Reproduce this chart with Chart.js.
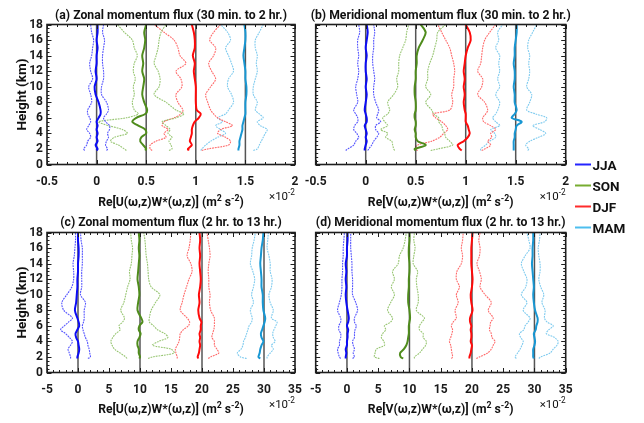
<!DOCTYPE html>
<html>
<head>
<meta charset="utf-8">
<script src="https://cdn.jsdelivr.net/npm/chart.js@4.4.0/dist/chart.umd.min.js"></script>
<style>
  html, body { margin: 0; padding: 0; background: #fff; width: 644px; height: 423px; overflow: hidden; }
  #wrap { position: relative; width: 644px; height: 423px; }
  #wrap canvas { position: absolute; left: 0; top: 0; }
</style>
</head>
<body>
<div id="wrap">
  <canvas id="pa" width="644" height="423"></canvas>
  <canvas id="pb" width="644" height="423"></canvas>
  <canvas id="pc" width="644" height="423"></canvas>
  <canvas id="pd" width="644" height="423"></canvas>
</div>
<script>
// Heights (km) shared by every profile
const heights = [1.8, 2, 2.5, 3, 3.5, 4, 4.5, 5, 5.5, 6, 6.5, 7, 8, 9, 10, 11, 12, 13, 14, 15, 16, 17, 18];

const seasons = ['JJA', 'SON', 'DJF', 'MAM'];
const refTop = [0, 0.5, 1, 1.5];       // offsets of the upper panels (x10^-2)
const refBottom = [0, 10, 20, 30];     // offsets of the lower panels (x10^-2)
const ticksTop = [-0.5, 0, 0.5, 1, 1.5, 2];
const ticksBottom = [-5, 0, 5, 10, 15, 20, 25, 30, 35];
const heightTicks = [0, 2, 4, 6, 8, 10, 12, 14, 16, 18];

// (a) zonal flux, 30 min to 2 hr: mean, lower and upper bounds
const aJJAmean = [0.00, 0.01, -0.01, 0.01, 0.00, 0.01, 0.00, 0.01, 0.00, 0.02, 0.04, 0.04, 0.02, -0.01, -0.02, 0.00, -0.01, 0.00, 0.00, 0.01, 0.00, 0.01, 0.01];
const aJJAlow  = [-0.12, -0.13, -0.10, -0.09, -0.06, -0.07, -0.10, -0.08, -0.06, -0.07, -0.09, -0.09, -0.05, -0.06, -0.08, -0.04, -0.06, -0.07, -0.05, -0.04, -0.03, -0.05, -0.06];
const aJJAhigh = [0.10, 0.11, 0.09, 0.10, 0.12, 0.11, 0.13, 0.13, 0.09, 0.07, 0.10, 0.12, 0.10, 0.05, 0.05, 0.07, 0.07, 0.06, 0.06, 0.07, 0.08, 0.06, 0.07];
const aSONmean = [0.49, 0.50, 0.47, 0.44, 0.45, 0.50, 0.49, 0.42, 0.36, 0.40, 0.49, 0.51, 0.48, 0.46, 0.47, 0.48, 0.46, 0.47, 0.46, 0.48, 0.49, 0.48, 0.50];
const aSONlow  = [0.30, 0.28, 0.22, 0.14, 0.18, 0.31, 0.26, 0.12, 0.02, 0.30, 0.42, 0.38, 0.36, 0.38, 0.37, 0.39, 0.37, 0.38, 0.41, 0.38, 0.36, 0.28, 0.21];
const aSONhigh = [0.73, 0.76, 0.75, 0.73, 0.76, 0.72, 0.74, 0.70, 0.66, 0.80, 0.88, 0.80, 0.70, 0.58, 0.63, 0.64, 0.62, 0.58, 0.60, 0.62, 0.63, 0.65, 0.70];
const aDJFmean = [0.93, 0.92, 0.96, 0.94, 0.95, 0.96, 0.96, 0.97, 0.99, 1.03, 1.05, 1.01, 1.00, 1.00, 1.00, 0.99, 0.98, 0.99, 0.97, 0.99, 0.99, 0.98, 0.96];
const aDJFlow  = [0.56, 0.54, 0.54, 0.60, 0.70, 0.68, 0.72, 0.66, 0.68, 0.78, 0.85, 0.87, 0.82, 0.80, 0.86, 0.85, 0.80, 0.90, 0.84, 0.82, 0.78, 0.68, 0.58];
const aDJFhigh = [1.06, 1.12, 1.33, 1.35, 1.30, 1.22, 1.25, 1.37, 1.30, 1.22, 1.18, 1.15, 1.12, 1.10, 1.15, 1.20, 1.16, 1.13, 1.18, 1.20, 1.14, 1.18, 1.25];
const aMAMmean = [1.43, 1.43, 1.44, 1.44, 1.45, 1.46, 1.47, 1.47, 1.48, 1.49, 1.50, 1.50, 1.50, 1.51, 1.51, 1.50, 1.50, 1.49, 1.48, 1.49, 1.50, 1.50, 1.49];
const aMAMlow  = [1.05, 1.06, 1.10, 1.15, 1.22, 1.30, 1.25, 1.20, 1.27, 1.22, 1.30, 1.33, 1.38, 1.36, 1.32, 1.33, 1.38, 1.36, 1.33, 1.30, 1.35, 1.32, 1.25];
const aMAMhigh = [1.58, 1.62, 1.64, 1.66, 1.68, 1.70, 1.72, 1.65, 1.62, 1.68, 1.64, 1.60, 1.62, 1.58, 1.58, 1.60, 1.62, 1.61, 1.62, 1.60, 1.60, 1.64, 1.68];

// (b) meridional flux, 30 min to 2 hr
const bJJAmean = [-0.01, -0.01, 0.00, 0.01, 0.00, 0.01, 0.00, -0.01, 0.01, 0.01, 0.00, -0.01, 0.00, 0.01, 0.00, 0.01, 0.00, 0.00, 0.01, 0.00, 0.01, 0.02, 0.01];
const bJJAlow  = [-0.20, -0.18, -0.12, -0.10, -0.07, -0.09, -0.12, -0.11, -0.08, -0.08, -0.10, -0.12, -0.08, -0.09, -0.10, -0.08, -0.07, -0.08, -0.07, -0.08, -0.08, -0.06, -0.07];
const bJJAhigh = [0.02, 0.03, 0.06, 0.08, 0.11, 0.13, 0.10, 0.10, 0.15, 0.11, 0.12, 0.13, 0.10, 0.08, 0.08, 0.09, 0.08, 0.07, 0.07, 0.08, 0.08, 0.09, 0.08];
const bSONmean = [0.50, 0.49, 0.60, 0.52, 0.50, 0.50, 0.49, 0.50, 0.50, 0.49, 0.49, 0.50, 0.50, 0.49, 0.49, 0.50, 0.50, 0.51, 0.51, 0.53, 0.57, 0.60, 0.55];
const bSONlow  = [0.29, 0.28, 0.27, 0.26, 0.20, 0.22, 0.15, 0.22, 0.19, 0.17, 0.22, 0.24, 0.22, 0.28, 0.32, 0.31, 0.33, 0.33, 0.34, 0.37, 0.40, 0.41, 0.43];
const bSONhigh = [0.65, 0.72, 0.87, 0.84, 0.80, 0.79, 0.77, 0.76, 0.73, 0.73, 0.68, 0.66, 0.60, 0.65, 0.60, 0.62, 0.62, 0.64, 0.67, 0.69, 0.71, 0.72, 0.80];
const bDJFmean = [0.96, 0.94, 0.92, 0.98, 1.02, 1.04, 1.03, 1.02, 1.00, 1.00, 1.00, 0.99, 0.98, 0.99, 0.98, 0.99, 0.98, 0.99, 1.00, 1.02, 1.05, 1.04, 1.00];
const bDJFlow  = [0.52, 0.49, 0.52, 0.66, 0.74, 0.78, 0.82, 0.80, 0.76, 0.70, 0.67, 0.84, 0.87, 0.86, 0.88, 0.88, 0.89, 0.88, 0.86, 0.84, 0.80, 0.76, 0.72];
const bDJFhigh = [1.16, 1.19, 1.25, 1.22, 1.26, 1.25, 1.30, 1.25, 1.18, 1.17, 1.20, 1.22, 1.19, 1.12, 1.16, 1.17, 1.12, 1.15, 1.16, 1.17, 1.19, 1.24, 1.30];
const bMAMmean = [1.48, 1.48, 1.48, 1.48, 1.49, 1.49, 1.50, 1.51, 1.56, 1.46, 1.49, 1.51, 1.49, 1.49, 1.48, 1.49, 1.49, 1.48, 1.49, 1.49, 1.50, 1.51, 1.51];
const bMAMlow  = [1.15, 1.15, 1.20, 1.24, 1.30, 1.29, 1.25, 1.34, 1.30, 1.27, 1.30, 1.32, 1.34, 1.30, 1.34, 1.32, 1.34, 1.33, 1.34, 1.30, 1.33, 1.32, 1.37];
const bMAMhigh = [1.62, 1.63, 1.60, 1.64, 1.73, 1.80, 1.74, 1.67, 1.79, 1.81, 1.70, 1.61, 1.64, 1.66, 1.61, 1.63, 1.64, 1.63, 1.64, 1.62, 1.63, 1.67, 1.71];

// (c) zonal flux, 2 hr to 13 hr
const cJJAmean = [-0.1, -0.1, 0.1, 0.2, 0.1, 0.0, -0.3, -0.4, -0.1, 0.2, 0.1, -0.1, -0.5, -0.3, -0.2, -0.1, -0.1, 0.0, 0.0, 0.1, 0.1, 0.0, 0.0];
const cJJAlow  = [-1.2, -1.2, -1.4, -1.6, -1.2, -0.9, -1.4, -2.0, -2.8, -2.2, -1.5, -0.9, -2.3, -2.6, -1.8, -1.0, -0.7, -0.7, -0.8, -0.6, -0.5, -0.4, -0.4];
const cJJAhigh = [1.6, 2.0, 1.9, 1.8, 1.6, 1.5, 1.2, 1.0, 0.8, 0.7, 0.9, 1.0, 1.0, 1.2, 0.4, 0.6, 0.6, 0.6, 0.7, 0.7, 0.7, 0.5, 0.4];
const cSONmean = [9.9, 10.0, 9.8, 9.8, 9.6, 9.6, 9.9, 10.1, 9.8, 9.9, 10.4, 10.2, 9.6, 9.7, 9.9, 9.8, 9.6, 9.7, 9.8, 9.9, 9.8, 9.9, 9.8];
const cSONlow  = [7.9, 7.7, 6.8, 5.9, 5.5, 5.3, 5.6, 6.1, 6.8, 6.6, 7.2, 7.5, 6.9, 7.4, 7.7, 8.0, 8.4, 8.3, 8.6, 8.7, 8.8, 8.6, 8.5];
const cSONhigh = [11.3, 12.0, 15.5, 15.0, 12.0, 13.0, 14.5, 14.0, 12.8, 12.2, 11.5, 11.5, 11.8, 12.5, 13.2, 11.8, 11.4, 11.3, 11.2, 11.0, 10.9, 10.8, 10.6];
const cDJFmean = [19.4, 19.3, 19.5, 19.6, 19.7, 19.6, 19.7, 19.6, 19.8, 19.8, 19.9, 19.6, 19.4, 19.6, 19.5, 19.7, 19.8, 19.7, 19.6, 19.7, 19.6, 19.7, 19.6];
const cDJFlow  = [16.0, 16.0, 15.8, 15.7, 16.0, 16.3, 16.4, 16.5, 17.0, 17.8, 18.0, 17.6, 16.5, 16.8, 17.1, 17.5, 17.9, 18.4, 18.2, 17.6, 17.9, 18.1, 18.2];
const cDJFhigh = [21.0, 21.4, 22.7, 22.4, 22.0, 22.0, 21.6, 21.7, 21.9, 22.0, 22.0, 22.0, 21.4, 21.2, 21.3, 21.1, 21.1, 21.0, 21.1, 21.3, 21.2, 21.0, 20.8];
const cMAMmean = [29.4, 29.1, 29.3, 29.4, 29.6, 29.9, 29.6, 29.5, 29.7, 29.9, 30.1, 30.2, 29.9, 29.8, 29.8, 29.6, 29.6, 29.5, 29.4, 29.5, 29.6, 29.8, 29.9];
const cMAMlow  = [27.2, 26.2, 25.7, 26.3, 26.6, 26.7, 27.0, 27.2, 27.4, 27.6, 28.0, 28.1, 27.8, 28.3, 28.0, 28.3, 28.5, 28.2, 27.8, 28.0, 28.1, 28.4, 28.6];
const cMAMhigh = [30.5, 30.5, 31.0, 31.5, 31.2, 31.8, 31.5, 31.4, 31.6, 31.9, 32.1, 31.2, 31.5, 31.0, 30.8, 31.2, 31.3, 31.0, 31.0, 30.8, 30.5, 30.6, 30.7];

// (d) meridional flux, 2 hr to 13 hr
const dJJAmean = [-0.2, -0.2, -0.1, -0.2, 0.0, 0.0, 0.1, 0.1, 0.2, 0.0, 0.2, 0.3, 0.1, -0.1, -0.2, -0.1, -0.2, -0.1, -0.2, 0.0, 0.0, 0.1, 0.1];
const dJJAlow  = [-1.0, -1.2, -1.4, -1.5, -1.2, -1.2, -1.0, -1.0, -1.3, -1.3, -1.0, -1.0, -1.5, -1.2, -0.9, -0.8, -0.8, -0.7, -0.7, -0.6, -0.6, -0.5, -0.4];
const dJJAhigh = [0.9, 1.2, 1.0, 1.2, 1.0, 0.9, 1.2, 1.2, 1.3, 1.5, 1.2, 1.2, 1.7, 1.4, 0.9, 0.9, 0.9, 0.8, 0.8, 0.7, 0.6, 0.6, 0.6];
const dSONmean = [9.0, 8.6, 8.5, 9.1, 9.5, 9.7, 9.8, 9.9, 9.9, 9.9, 10.0, 10.1, 10.0, 9.8, 9.8, 9.9, 9.9, 10.0, 10.0, 9.9, 9.9, 10.0, 10.0];
const dSONlow  = [5.2, 4.4, 4.5, 4.7, 6.0, 5.9, 5.5, 5.7, 6.2, 6.0, 7.0, 7.3, 6.5, 7.0, 7.6, 7.1, 7.6, 7.3, 8.2, 8.4, 9.0, 9.3, 9.5];
const dSONhigh = [10.8, 10.8, 11.6, 12.1, 12.6, 12.7, 12.2, 12.2, 11.6, 11.6, 12.0, 12.4, 11.1, 11.4, 11.4, 11.2, 11.1, 11.3, 10.6, 10.7, 10.9, 10.7, 10.8];
const dDJFmean = [19.6, 19.6, 19.8, 19.9, 20.0, 19.8, 19.9, 19.9, 19.8, 19.9, 19.7, 19.7, 20.1, 19.9, 19.8, 20.0, 20.1, 20.0, 19.9, 19.9, 19.9, 20.0, 20.1];
const dDJFlow  = [16.7, 16.9, 16.8, 16.7, 16.6, 16.4, 16.6, 16.8, 16.9, 16.7, 17.0, 17.5, 17.3, 17.8, 17.5, 18.0, 17.5, 17.6, 18.3, 18.5, 18.3, 18.5, 18.6];
const dDJFhigh = [20.7, 21.2, 22.5, 23.1, 23.4, 23.7, 23.2, 23.1, 22.8, 22.9, 23.0, 23.4, 22.6, 23.1, 22.1, 21.3, 21.5, 21.2, 20.8, 21.2, 21.3, 21.1, 21.3];
const dMAMmean = [29.9, 29.8, 29.8, 29.8, 30.0, 30.1, 30.0, 29.9, 30.2, 30.3, 30.5, 30.5, 30.1, 29.9, 29.8, 29.9, 29.8, 29.7, 29.6, 29.7, 29.7, 29.8, 29.8];
const dMAMlow  = [27.1, 26.9, 27.3, 27.7, 28.0, 28.2, 27.8, 27.6, 28.3, 28.5, 29.0, 29.3, 28.2, 28.8, 27.9, 28.6, 28.8, 28.3, 27.9, 28.5, 29.3, 29.1, 28.8];
const dMAMhigh = [30.7, 31.0, 32.5, 33.0, 33.6, 33.8, 33.2, 31.9, 32.3, 33.0, 32.0, 31.6, 31.7, 31.2, 31.5, 31.0, 30.7, 30.9, 30.9, 30.7, 30.6, 30.8, 30.9];

// Per-season colours: thick mean line and dotted bound lines
const meanColors  = { JJA: '#0c0cf5', SON: '#4f8c1c', DJF: '#ff0a0a', MAM: '#1897d3' };
const boundColors = { JJA: '#5555ff', SON: '#98c673', DJF: '#ff6a6a', MAM: '#7fcbef' };
const legendColors = { JJA: '#2424ff', SON: '#77ac30', DJF: '#ff2b2b', MAM: '#4dbeee' };

const profiles = {
  a: { JJA: [aJJAmean, aJJAlow, aJJAhigh], SON: [aSONmean, aSONlow, aSONhigh], DJF: [aDJFmean, aDJFlow, aDJFhigh], MAM: [aMAMmean, aMAMlow, aMAMhigh] },
  b: { JJA: [bJJAmean, bJJAlow, bJJAhigh], SON: [bSONmean, bSONlow, bSONhigh], DJF: [bDJFmean, bDJFlow, bDJFhigh], MAM: [bMAMmean, bMAMlow, bMAMhigh] },
  c: { JJA: [cJJAmean, cJJAlow, cJJAhigh], SON: [cSONmean, cSONlow, cSONhigh], DJF: [cDJFmean, cDJFlow, cDJFhigh], MAM: [cMAMmean, cMAMlow, cMAMhigh] },
  d: { JJA: [dJJAmean, dJJAlow, dJJAhigh], SON: [dSONmean, dSONlow, dSONhigh], DJF: [dDJFmean, dDJFlow, dDJFhigh], MAM: [dMAMmean, dMAMlow, dMAMhigh] }
};

const FONT = 'Roboto, "Liberation Sans", Arial, sans-serif';
const W = 644, H = 423;

const panels = [
  { key: 'a', canvas: 'pa', title: '(a) Zonal momentum flux (30 min. to 2 hr.)', comp: 'U',
    area: { left: 47, top: 24.5, right: 295, bottom: 164.5 }, xTicks: ticksTop, minor: 0.1, refs: refTop,
    showY: true, titleY: 18.5, axisY: 206, powY: 200 },
  { key: 'b', canvas: 'pb', title: '(b) Meridional momentum flux (30 min. to 2 hr.)', comp: 'V',
    area: { left: 315.7, top: 24.5, right: 565.7, bottom: 164.5 }, xTicks: ticksTop, minor: 0.1, refs: refTop,
    showY: false, titleY: 18.5, axisY: 206, powY: 200, legend: true },
  { key: 'c', canvas: 'pc', title: '(c) Zonal momentum flux (2 hr. to 13 hr.)', comp: 'U',
    area: { left: 47, top: 232.5, right: 295, bottom: 372.5 }, xTicks: ticksBottom, minor: 1, refs: refBottom,
    showY: true, titleY: 225.5, axisY: 413, powY: 408 },
  { key: 'd', canvas: 'pd', title: '(d) Meridional momentum flux (2 hr. to 13 hr.)', comp: 'V',
    area: { left: 315.7, top: 232.5, right: 565.7, bottom: 372.5 }, xTicks: ticksBottom, minor: 1, refs: refBottom,
    showY: false, titleY: 225.5, axisY: 413, powY: 408 }
];

function profilePoints(values) {
  return values.map((v, i) => ({ x: v, y: heights[i] }));
}

// Text made of plain and superscript pieces
function drawRich(ctx, parts, x, y, align, size, weight) {
  const fonts = parts.map(p => `${weight} ${p[1] ? size * 0.72 : size}px ${FONT}`);
  let w = 0;
  parts.forEach((p, i) => { ctx.font = fonts[i]; w += ctx.measureText(p[0]).width; });
  let cx = align === 'center' ? x - w / 2 : align === 'right' ? x - w : x;
  ctx.textAlign = 'left';
  ctx.textBaseline = 'alphabetic';
  parts.forEach((p, i) => {
    ctx.font = fonts[i];
    ctx.fillText(p[0], cx, p[1] ? y - size * 0.42 : y);
    cx += ctx.measureText(p[0]).width;
  });
}

// Box frame with inward major/minor ticks on all four sides, titles and legend
const decorations = {
  id: 'decorations',
  afterDatasetsDraw(chart) {
    const p = chart.options.plugins.decorations.panel;
    const { ctx, chartArea: a } = chart;
    const xs = chart.scales.x, ys = chart.scales.y;
    ctx.save();
    ctx.strokeStyle = '#1e1e1e';
    ctx.lineWidth = 1;
    ctx.beginPath();
    const step = p.xTicks[1] - p.xTicks[0];
    const nx = Math.round((xs.max - xs.min) / p.minor);
    for (let i = 0; i <= nx; i++) {
      const v = xs.min + i * p.minor;
      const major = Math.abs(v / step - Math.round(v / step)) < 1e-6;
      const L = major ? 4.5 : 2.5;
      const px = Math.round(xs.getPixelForValue(v)) + 0.5;
      ctx.moveTo(px, a.bottom); ctx.lineTo(px, a.bottom - L);
      ctx.moveTo(px, a.top); ctx.lineTo(px, a.top + L);
    }
    const ny = Math.round((ys.max - ys.min) / 0.5);
    for (let i = 0; i <= ny; i++) {
      const v = ys.min + i * 0.5;
      const major = Math.abs(v / 2 - Math.round(v / 2)) < 1e-6;
      const L = major ? 4.5 : 2.5;
      const py = Math.round(ys.getPixelForValue(v)) + 0.5;
      ctx.moveTo(a.left, py); ctx.lineTo(a.left + L, py);
      ctx.moveTo(a.right, py); ctx.lineTo(a.right - L, py);
    }
    ctx.stroke();
    ctx.lineWidth = 1.6;
    ctx.strokeRect(a.left, a.top, a.right - a.left, a.bottom - a.top);
    ctx.restore();
  },
  afterDraw(chart) {
    const p = chart.options.plugins.decorations.panel;
    const { ctx, chartArea: a } = chart;
    const cx = (a.left + a.right) / 2;
    ctx.save();
    ctx.fillStyle = '#111';
    drawRich(ctx, [[p.title, false]], cx, p.titleY, 'center', 12.2, 'bold');
    drawRich(ctx, [[`Re[${p.comp}(ω,z)W*(ω,z)] (m`, false], ['2', true], [' s', false], ['-2', true], [')', false]],
      cx, p.axisY, 'center', 12.2, 'bold');
    drawRich(ctx, [['×10', false], ['-2', true]], a.right, p.powY, 'right', 11.5, 'normal');
    if (p.showY) {
      ctx.save();
      ctx.translate(25.5, (a.top + a.bottom) / 2);
      ctx.rotate(-Math.PI / 2);
      drawRich(ctx, [['Height (km)', false]], 0, 0, 'center', 13.5, 'bold');
      ctx.restore();
    }
    if (p.legend) {
      const rows = [164.5, 185.5, 206.5, 227.5];
      seasons.forEach((s, i) => {
        ctx.strokeStyle = legendColors[s];
        ctx.lineWidth = 2;
        ctx.beginPath();
        ctx.moveTo(575, rows[i]); ctx.lineTo(591, rows[i]);
        ctx.stroke();
        ctx.fillStyle = '#111';
        drawRich(ctx, [[s, false]], 592.5, rows[i] + 5, 'left', 13.5, 'bold');
      });
    }
    ctx.restore();
  }
};

Chart.defaults.font.family = FONT;
Chart.defaults.color = '#1a1a1a';

const Y_WIDTH = 30, X_HEIGHT = 30;

panels.forEach(p => {
  const datasets = [];
  // thick seasonal means, drawn on top
  seasons.forEach(s => {
    datasets.push({
      data: profilePoints(profiles[p.key][s][0]),
      borderColor: meanColors[s], borderWidth: 2, pointRadius: 0, tension: 0.3
    });
  });
  // reference verticals at each season offset
  p.refs.forEach(r => datasets.push({
    data: [{ x: r, y: 0 }, { x: r, y: 18 }],
    borderColor: 'rgba(55,55,55,0.85)', borderWidth: 1.5, pointRadius: 0, tension: 0
  }));
  // dotted lower / upper bounds
  seasons.forEach(s => {
    [1, 2].forEach(k => datasets.push({
      data: profilePoints(profiles[p.key][s][k]),
      borderColor: boundColors[s], borderWidth: 1.1, borderDash: [1.8, 0.9], pointRadius: 0, tension: 0.3
    }));
  });

  const yW = p.showY ? Y_WIDTH : 0;
  new Chart(document.getElementById(p.canvas), {
    type: 'line',
    data: { datasets },
    plugins: [decorations],
    options: {
      responsive: false,
      animation: false,
      devicePixelRatio: 1,
      layout: {
        padding: {
          left: p.area.left - yW,
          right: W - p.area.right,
          top: p.area.top,
          bottom: H - p.area.bottom - X_HEIGHT
        }
      },
      plugins: {
        legend: { display: false },
        tooltip: { enabled: false },
        decorations: { panel: p }
      },
      scales: {
        x: {
          type: 'linear',
          min: p.xTicks[0], max: p.xTicks[p.xTicks.length - 1],
          afterBuildTicks: sc => { sc.ticks = p.xTicks.map(v => ({ value: v })); },
          afterFit: sc => { sc.height = X_HEIGHT; },
          grid: { display: false, drawTicks: false },
          border: { display: false },
          ticks: {
            padding: 10, maxRotation: 0, autoSkip: false,
            font: { size: 12, weight: 'bold' }, color: '#1a1a1a',
            callback: v => String(+Number(v).toFixed(2))
          }
        },
        y: {
          type: 'linear', min: 0, max: 18,
          afterBuildTicks: sc => { sc.ticks = heightTicks.map(v => ({ value: v })); },
          afterFit: sc => { sc.width = yW; },
          grid: { display: false, drawTicks: false },
          border: { display: false },
          ticks: {
            display: p.showY, padding: 4, autoSkip: false,
            font: { size: 12, weight: 'bold' }, color: '#1a1a1a'
          }
        }
      }
    }
  });
});
</script>
</body>
</html>
